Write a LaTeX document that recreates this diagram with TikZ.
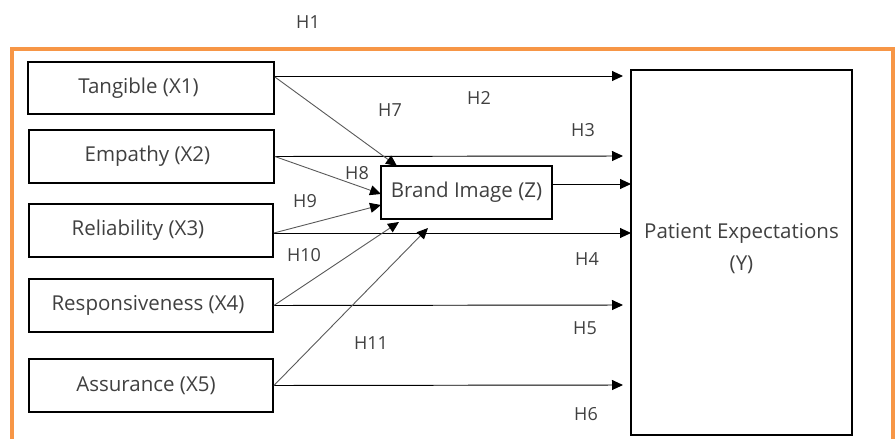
\documentclass[tikz,border=0pt]{standalone}
\usepackage{fontspec}
\setmainfont{Open Sans}
\usetikzlibrary{arrows.meta}
\definecolor{frameorange}{HTML}{F79646}
\definecolor{txt}{HTML}{404040}
\begin{document}
\begin{tikzpicture}[x=1pt,y=-1pt,
  box/.style={draw=black, line width=1.8pt, inner sep=0pt, align=center,
    font=\fontsize{20.5}{32}\selectfont, text=txt},
  hlab/.style={font=\fontsize{18}{22}\selectfont, text=txt},
  harrow/.style={line width=0.95pt, draw=black, -{Triangle[length=11pt,width=10pt,color=black]}},
  darrow/.style={line width=0.9pt, draw=black!65, -{Triangle[length=11pt,width=10pt,color=black]}}]
\useasboundingbox (0,0) rectangle (895,439);
\clip (0,0) rectangle (895,439);
% frame
\draw[frameorange, line width=4pt] (12,460) -- (12,49) -- (893,49) -- (893,460);
% boxes
\node[box, minimum width=246pt, minimum height=52pt] (t) at (151,88) {\raisebox{1pt}{Tangible (X1)}\hspace{25pt}};
\node[box, minimum width=245pt, minimum height=53pt] (e) at (151.5,156.5) {\raisebox{1pt}{Empathy (X2)}\hspace{8pt}};
\node[box, minimum width=244pt, minimum height=53pt] (r) at (151,230.5) {\raisebox{1pt}{Reliability (X3)}\hspace{26pt}};
\node[box, minimum width=244pt, minimum height=53pt] (s) at (151,305.5) {\raisebox{1pt}{Responsiveness (X4)}\hspace{6pt}};
\node[box, minimum width=244pt, minimum height=53pt] (a) at (151,385.5) {\raisebox{1pt}{Assurance (X5)}\hspace{10pt}};
\node[box, minimum width=171pt, minimum height=53pt] (b) at (466.5,192.5) {Brand Image (Z)};
\node[box, minimum width=221pt, minimum height=365pt] (y) at (741.5,252.5) {\parbox{210pt}{\centering Patient Expectations\\(Y)\par\vspace{7pt}}};
% arrow ends
\coordinate (t2y) at (623,76);
\coordinate (e2y) at (623,156);
\coordinate (r2y) at (631,233);
\coordinate (s2y) at (623,305);
\coordinate (a2y) at (623,385);
\coordinate (b2y) at (631,184);
\coordinate (t2b) at (397,166);
\coordinate (e2b) at (381,194);
\coordinate (r2b) at (381,205);
\coordinate (s2b) at (399,222);
\coordinate (a2b) at (428,228);
% horizontal arrows
\draw[harrow] ([yshift=12pt]t.east) -- (t2y);
\draw[harrow] (e.east) -- (e2y);
\draw[harrow] ([yshift=-2.5pt]r.east) -- (r2y);
\draw[harrow] (s.east) -- (s2y);
\draw[harrow] (a.east) -- (a2y);
\draw[harrow] ([yshift=8.5pt]b.east) -- (b2y);
% diagonal arrows
\draw[darrow] ([yshift=11pt]t.east) -- (t2b);
\draw[darrow] (e.east) -- (e2b);
\draw[darrow] ([yshift=-2.5pt]r.east) -- (r2b);
\draw[darrow] (s.east) -- (s2b);
\draw[darrow] (a.east) -- (a2b);
% labels
\node[hlab] (h1) at (308,22) {H1};
\node[hlab] (h2) at (479,98) {H2};
\node[hlab] (h3) at (583,130) {H3};
\node[hlab] (h4) at (587,259) {H4};
\node[hlab] (h5) at (585,328) {H5};
\node[hlab] (h6) at (586,414) {H6};
\node[hlab] (h7) at (390,110) {H7};
\node[hlab] (h8) at (357,173) {H8};
\node[hlab] (h9) at (305,201) {H9};
\node[hlab] (h10) at (304,255) {H10};
\node[hlab] (h11) at (371,343) {H11};
\end{tikzpicture}
\end{document}
